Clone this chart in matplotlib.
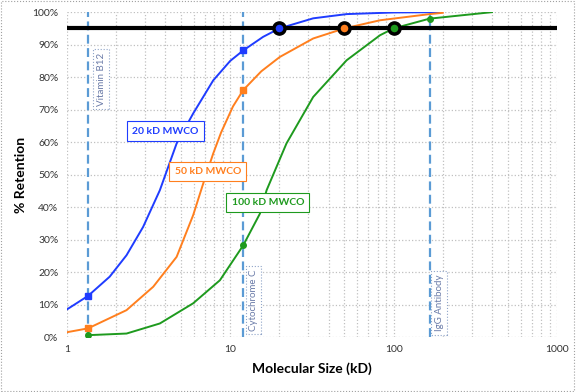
import matplotlib
matplotlib.use("Agg")
import matplotlib.pyplot as plt
from matplotlib.ticker import FixedLocator, FuncFormatter, NullFormatter, LogLocator

plt.rcParams['font.family'] = ['Lato', 'DejaVu Sans']

# curves (size in kD, % retention)
size_20 = [1, 1.35, 1.83, 2.32, 2.93, 3.71, 4.7, 5.93, 7.87, 10, 12, 15.9, 20, 32.2, 51.6, 100, 190]
ret_20 = [8.5, 12.7, 18.6, 25.2, 33.9, 45.2, 59.6, 68.8, 79, 85, 88.2, 92.4, 95, 98.1, 99.4, 99.9, 100]

size_50 = [1, 1.35, 2.32, 3.38, 4.7, 5.93, 6.84, 7.87, 8.8, 10.4, 12, 15.5, 20.1, 32.2, 50,
           82.6, 166, 200]
ret_50 = [1.5, 2.7, 8.3, 15.5, 24.7, 37.5, 47.3, 56.5, 63, 71, 76, 81.8, 86.2, 91.9, 95,
          97.5, 99.4, 99.8]

size_100 = [1.35, 2.32, 3.71, 5.93, 8.65, 12, 15.2, 16.7, 22.1, 32.2, 51.6, 82.6, 100, 166, 400]
ret_100 = [0.6, 1.1, 4.2, 10.4, 17.5, 28.2, 38, 45.2, 59.6, 73.9, 85.2, 92.9, 95, 98, 100]

# reference molecules
mol_names = ["Vitamin B12", "Cytochrome C", "IgG Antibody"]
mol_sizes = [1.35, 12, 166]
marks_20 = [12.7, 88.2]
marks_50 = [2.7, 76]
marks_100 = [0.6, 28.2, 98]

# 95% retention cut-off points
cutoff = 95
mwco_sizes = [20, 50, 100]
mwco_labels = ["20 kD MWCO", "50 kD MWCO", "100 kD MWCO"]

blue = "#1f3cff"
orange = "#ff7f1e"
green = "#1e9a1e"
colors = [blue, orange, green]

fig = plt.figure(figsize=(5.76, 3.92), dpi=100)
ax = fig.add_axes([0.116, 0.14, 0.851, 0.829])

ax.set_xscale("log")
ax.set_xlim(1, 1000)
ax.set_ylim(0, 100)

# grid
ax.grid(True, which="major", color="#c0c0c0", linestyle=":", linewidth=0.9)
ax.grid(True, which="minor", axis="x", color="#c0c0c0", linestyle=":", linewidth=0.9)
ax.set_axisbelow(True)
for s in ax.spines.values():
    s.set_visible(False)

ax.yaxis.set_major_locator(FixedLocator(range(0, 101, 10)))
ax.yaxis.set_major_formatter(FuncFormatter(lambda v, p: f"{int(v)}%"))
ax.xaxis.set_major_locator(FixedLocator([1, 10, 100, 1000]))
ax.xaxis.set_major_formatter(FuncFormatter(lambda v, p: f"{int(v)}"))
ax.xaxis.set_minor_locator(LogLocator(base=10, subs=range(2, 10)))
ax.xaxis.set_minor_formatter(NullFormatter())
ax.tick_params(which="both", length=0, labelsize=7.5, colors="#333333", pad=6)

# molecule lines
for name, s in zip(mol_names, mol_sizes):
    ax.axvline(s, color="#5b9bd5", linestyle=(0, (4, 2)), linewidth=1.6, zorder=2)

ax.plot(size_20, ret_20, color=blue, lw=1.4, zorder=3)
ax.plot(size_50, ret_50, color=orange, lw=1.4, zorder=3)
ax.plot(size_100, ret_100, color=green, lw=1.4, zorder=3)

ax.plot(mol_sizes[:2], marks_20, "s", color=blue, ms=4, zorder=4)
ax.plot(mol_sizes[:2], marks_50, "s", color=orange, ms=4, zorder=4)
ax.plot(mol_sizes, marks_100, "o", color=green, ms=4, zorder=4)

ax.plot([1, 1000], [cutoff, cutoff], color="black", lw=3, zorder=5)
for s, c in zip(mwco_sizes, colors):
    ax.plot(s, cutoff, "o", ms=8, mfc=c, mec="black", mew=2.5, zorder=6)

# labels
lab_pos = [(4.0, 63.4), (7.3, 51), (17, 41.5)]
for t, (x, y), c in zip(mwco_labels, lab_pos, colors):
    ax.text(x, y, t, color=c, fontsize=7.5, fontweight="bold", ha="center", va="center",
            bbox=dict(boxstyle="square,pad=0.5", fc="white", ec=c, lw=0.8), zorder=7)

mol_lab_pos = [(1.62, 79.4), (13.9, 11.4), (190, 10.5)]
for t, (x, y) in zip(mol_names, mol_lab_pos):
    ax.text(x, y, t, color="#6a7ba8", fontsize=7, rotation=90, ha="center", va="center",
            bbox=dict(boxstyle="square,pad=0.35", fc="white", ec="#8fa4c8", lw=0.8, ls=":"),
            zorder=7)

ax.set_xlabel("Molecular Size (kD)", fontsize=10, fontweight="bold", labelpad=6)
ax.set_ylabel("% Retention", fontsize=10, fontweight="bold", labelpad=4)

fig.patches.append(plt.Rectangle((0.002, 0.003), 0.994, 0.994, transform=fig.transFigure,
                                 fill=False, ec="#a0a0a0", lw=0.8, ls=":"))

fig.savefig("out.png", dpi=100)
